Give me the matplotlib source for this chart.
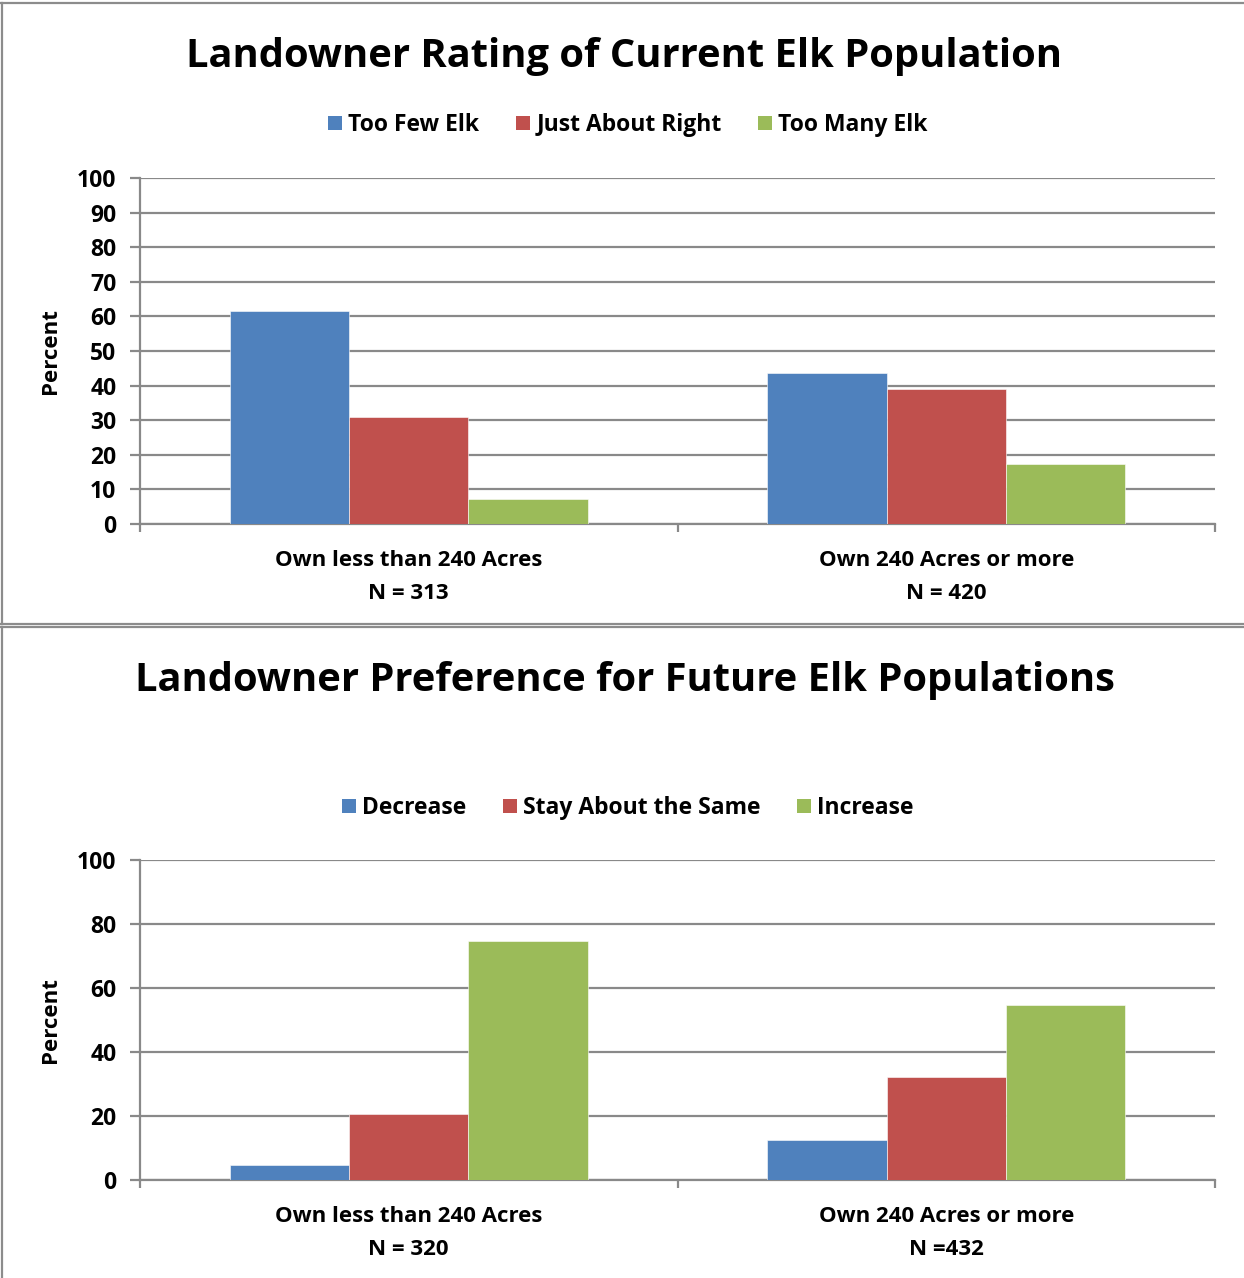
import matplotlib
matplotlib.use("Agg")
import matplotlib.pyplot as plt
from matplotlib.lines import Line2D
from matplotlib.patches import Patch
import numpy as np

# ---- data ----
groups_top = ["Own less than 240 Acres\nN = 313", "Own 240 Acres or more\nN = 420"]
series_top = ["Too Few Elk", "Just About Right", "Too Many Elk"]
too_few = [61.5, 43.5]
about_right = [30.8, 39.0]
too_many = [7.3, 17.3]

groups_bot = ["Own less than 240 Acres\nN = 320", "Own 240 Acres or more\nN =432"]
series_bot = ["Decrease", "Stay About the Same", "Increase"]
decrease = [4.6, 12.6]
stay_same = [20.5, 32.2]
increase = [74.6, 54.8]

colors = ["#4F81BD", "#C0504D", "#9BBB59"]
axis_grey = "#898989"

plt.rcParams["font.family"] = ["Open Sans", "DejaVu Sans"]
plt.rcParams["font.weight"] = "bold"

W, H = 1244, 1278
fig = plt.figure(figsize=(W / 100, H / 100), dpi=100)


def fx(px):
    return px / W


def fy(py):
    return 1 - py / H


def draw_panel(rect, groups, names, values, ymax, ystep, title, title_y, legend_y):
    ax = fig.add_axes(rect)
    x = np.arange(len(groups))
    bw = 0.222
    for i, (name, vals) in enumerate(zip(names, values)):
        ax.bar(x + (i - 1) * bw, vals, width=bw, color=colors[i],
               edgecolor="white", linewidth=0.4, label=name, zorder=3)
    ax.set_xlim(-0.5, len(groups) - 0.5)
    ax.set_ylim(0, ymax)
    ax.set_yticks(np.arange(0, ymax + 1, ystep))
    ax.yaxis.grid(True, color=axis_grey, linewidth=1.6, zorder=0)
    ax.set_axisbelow(True)
    for s in ("top", "right"):
        ax.spines[s].set_visible(False)
    for s in ("left", "bottom"):
        ax.spines[s].set_color(axis_grey)
        ax.spines[s].set_linewidth(1.6)
    ax.set_xticks(x)
    ax.set_xticklabels(groups, fontsize=16, fontweight="bold", linespacing=1.72)
    ax.tick_params(axis="x", which="major", length=0, pad=19)
    ax.set_xticks(np.arange(-0.5, len(groups)), minor=True)
    ax.tick_params(axis="x", which="minor", length=6, width=1.6, color=axis_grey, direction="out")
    ax.tick_params(axis="y", length=7, width=1.6, color=axis_grey, labelsize=16.5, pad=10)
    for t in ax.get_yticklabels():
        t.set_fontweight("bold")
    ax.set_ylabel("Percent", fontsize=16, fontweight="bold")
    ax.yaxis.set_label_coords(-0.0735, 0.5)

    fig.text(0.502, fy(title_y), title, ha="center", va="center",
             fontsize=28.7, fontweight="bold")
    handles = [Patch(facecolor=c, edgecolor="none") for c in colors]
    fig.legend(handles, names, loc="center", bbox_to_anchor=(fx(628), fy(legend_y)),
               ncol=3, frameon=False, handlelength=0.61, handleheight=0.61,
               handletextpad=0.26, columnspacing=1.6,
               prop={"size": 16.5, "weight": "bold"})
    return ax


draw_panel([fx(140), fy(524), fx(1215) - fx(140), fy(178) - fy(524)],
           groups_top, series_top, [too_few, about_right, too_many],
           100, 10, "Landowner Rating of Current Elk Population", 56, 125)

draw_panel([fx(140), fy(1180), fx(1215) - fx(140), fy(860) - fy(1180)],
           groups_bot, series_bot, [decrease, stay_same, increase],
           100, 20, "Landowner Preference for Future Elk Populations", 681, 808)

# panel frames
frame = dict(color="#8c8c8c", linewidth=1.6, transform=fig.transFigure)
fig.add_artist(Line2D([0, 1], [fy(2.5), fy(2.5)], **frame))
fig.add_artist(Line2D([0, 1], [fy(623.5), fy(623.5)], **frame))
fig.add_artist(Line2D([0, 1], [fy(626.5), fy(626.5)], **frame))
fig.add_artist(Line2D([fx(1.5), fx(1.5)], [fy(2.5), fy(623.5)], **frame))
fig.add_artist(Line2D([fx(1.5), fx(1.5)], [fy(626.5), 0], **frame))

fig.savefig("out.png", dpi=100, facecolor="white")
